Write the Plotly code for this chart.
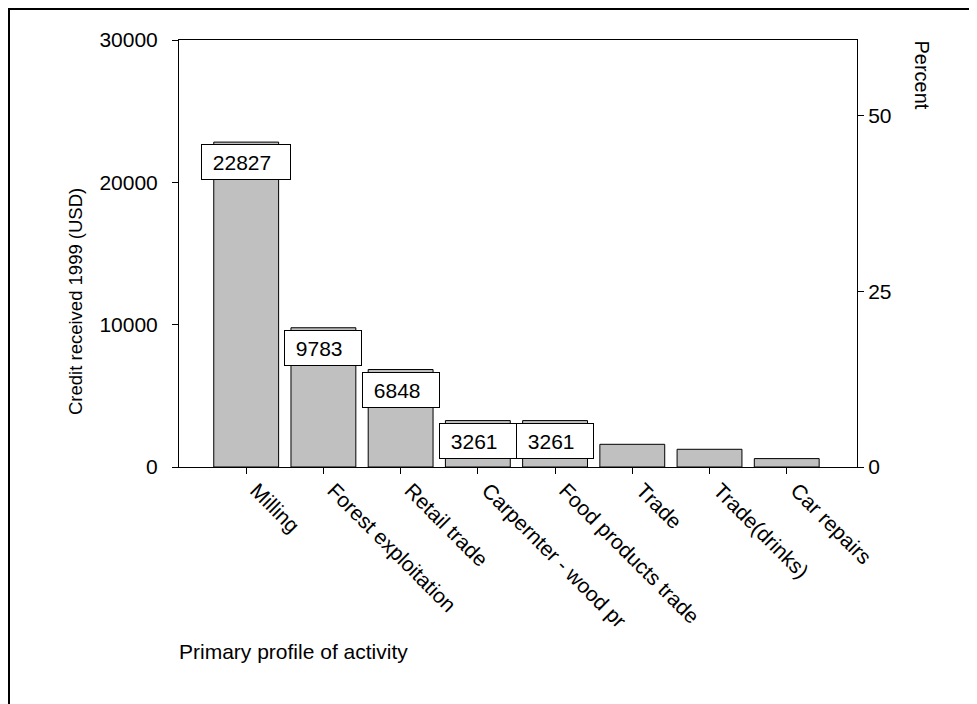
import plotly.graph_objects as go

categories = ["Milling", "Forest exploitation", "Retail trade", "Carpernter - wood pr",
              "Food products trade", "Trade", "Trade(drinks)", "Car repairs"]
credit_usd = [22827, 9783, 6848, 3261, 3261, 1595, 1244, 590]
labeled_count = 5  # first five bars carry boxed value labels
left_ticks = [0, 10000, 20000, 30000]
right_ticks = [0, 25, 50]

FONT = "Liberation Sans, Arial, sans-serif"
FS = 21
OFF = 8  # default page body margin
W, H = 977 - OFF, 704 - OFF
L, T = 179 - OFF, 40 - OFF
R, B = W - (857 - OFF), H - (467 - OFF)
pw, ph = W - L - R, H - T - B

def px_x(p):  # page pixel -> paper
    return (p - OFF - L) / pw

def px_y(p):
    return (H - B - (p - OFF)) / ph

total = sum(credit_usd)
percent = [v / total * 100 for v in credit_usd]
ymax = 30000
tf = dict(family=FONT, size=FS, color="black")

fig = go.Figure()
fig.add_trace(go.Bar(
    x=categories, y=credit_usd, width=0.84,
    marker=dict(color="#c0c0c0", line=dict(color="black", width=1)),
    showlegend=False, hoverinfo="skip"))
fig.add_trace(go.Scatter(
    x=categories, y=percent, yaxis="y2", mode="markers",
    marker=dict(opacity=0), showlegend=False, hoverinfo="skip"))

annotations = []
for c, v in zip(categories[:labeled_count], credit_usd[:labeled_count]):
    s = str(v)
    annotations.append(dict(
        x=c, y=v, xref="x", yref="y", xanchor="center", yanchor="top",
        text=" " + s, showarrow=False, align="left", valign="middle",
        width=12 * len(s) + 18, height=24, borderpad=5, borderwidth=1,
        bordercolor="black", bgcolor="white", yshift=-2,
        font=tf))

annotations.append(dict(
    x=px_x(75), y=px_y(302), xref="paper", yref="paper",
    text="Credit received 1999 (USD)", textangle=-90, showarrow=False,
    xanchor="center", yanchor="middle",
    font=dict(family=FONT, size=18.5, color="black")))
annotations.append(dict(
    x=px_x(922), y=px_y(38), xref="paper", yref="paper",
    text="Percent", textangle=90, showarrow=False,
    xanchor="center", yanchor="top",
    font=dict(family=FONT, size=20, color="black")))
annotations.append(dict(
    x=px_x(177), y=px_y(651), xref="paper", yref="paper",
    text="Primary profile of activity", showarrow=False,
    xanchor="left", yanchor="middle", font=tf))

fig.update_layout(
    width=W, height=H,
    margin=dict(l=L, r=R, t=T, b=B, autoexpand=False),
    paper_bgcolor="white", plot_bgcolor="white",
    font=tf,
    xaxis=dict(
        range=[-0.87, 7.91], showgrid=False, zeroline=False,
        showline=True, linecolor="black", linewidth=1, mirror=True,
        ticks="outside", ticklen=6, tickcolor="black", tickwidth=1,
        tickangle=45, tickfont=tf, ticklabelshift=10, ticklabelstandoff=-4),
    yaxis=dict(
        range=[0, ymax], tickvals=left_ticks, ticktext=[str(t) for t in left_ticks],
        showgrid=False, zeroline=False, showline=True, linecolor="black",
        linewidth=1, mirror=True, ticks="outside", ticklen=6,
        tickcolor="black", tickfont=tf, ticklabelstandoff=10),
    yaxis2=dict(
        overlaying="y", side="right", range=[0, ymax / total * 100],
        tickvals=right_ticks, ticktext=[str(t) for t in right_ticks],
        showgrid=False, zeroline=False, showline=True, linecolor="black",
        linewidth=1, ticks="outside", ticklen=6, tickcolor="black",
        tickfont=tf),
    annotations=annotations,
    shapes=[dict(type="rect", xref="paper", yref="paper",
                 x0=px_x(OFF + 1), x1=px_x(1010), y0=px_y(740), y1=px_y(OFF + 1),
                 line=dict(color="black", width=2), fillcolor="rgba(0,0,0,0)",
                 layer="above")],
)

fig.write_html("out.html")
